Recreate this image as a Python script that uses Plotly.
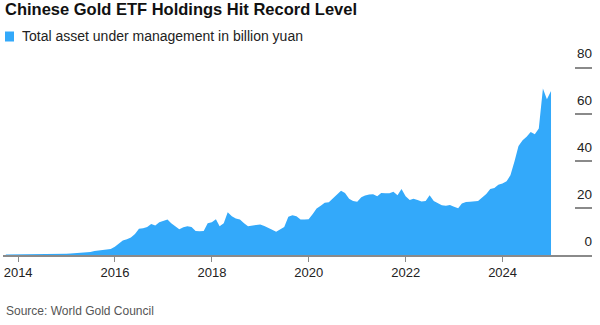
import pandas as pd
import plotly.graph_objects as go

# Month-end total assets under management of Chinese gold ETFs (billion yuan)
start_month = "2013-09-30"
aum_2013 = [0.2, 0.2, 0.2, 0.3]
aum_2014 = [0.3, 0.3, 0.3, 0.3, 0.4, 0.4, 0.4, 0.4, 0.4, 0.5, 0.5, 0.5]
aum_2015 = [0.6, 0.7, 0.9, 1.0, 1.1, 1.3, 1.7, 1.9, 2.0, 2.1, 2.6, 3.5]
aum_2016 = [5.0, 6.2, 6.7, 7.5, 9.0, 11.2, 11.4, 12.0, 13.2, 12.6, 14.0, 14.5]
aum_2017 = [15.2, 13.5, 12.2, 11.0, 11.8, 12.3, 12.0, 10.2, 10.1, 10.2, 13.5, 14.0]
aum_2018 = [15.3, 12.3, 13.6, 18.2, 16.5, 15.6, 15.2, 13.5, 12.3, 12.6, 13.0, 13.0]
aum_2019 = [12.4, 11.8, 10.8, 9.9, 11.0, 12.0, 16.3, 17.0, 16.5, 15.2, 15.2, 15.3]
aum_2020 = [17.5, 19.8, 21.0, 22.3, 22.5, 24.2, 26.0, 27.4, 26.5, 24.0, 23.0, 22.7]
aum_2021 = [24.6, 25.4, 25.8, 25.9, 25.1, 26.5, 26.3, 26.4, 27.0, 25.5, 28.2, 25.1]
aum_2022 = [23.5, 24.0, 23.5, 22.8, 23.0, 25.5, 23.0, 22.0, 21.2, 21.0, 21.3, 20.6]
aum_2023 = [19.9, 22.0, 22.6, 22.7, 22.7, 23.0, 24.5, 26.0, 28.2, 28.6, 30.0, 30.5]
aum_2024 = [31.5, 34.0, 40.0, 46.5, 49.0, 50.5, 52.5, 51.5, 54.0, 71.0, 66.5, 70.0]

y_ticks = [0, 20, 40, 60, 80]

title_text = "Chinese Gold ETF Holdings Hit Record Level"
series_name = "Total asset under management in billion yuan"
source_text = "Source: World Gold Council"

aum = (aum_2013 + aum_2014 + aum_2015 + aum_2016 + aum_2017 + aum_2018
       + aum_2019 + aum_2020 + aum_2021 + aum_2022 + aum_2023 + aum_2024)
dates = pd.date_range(start_month, periods=len(aum), freq="ME")

BLUE = "#33a9fa"
AXIS_GREY = "#8a8a8a"
TEXT = "#222222"
FONT = "Liberation Sans, Arial, sans-serif"

fig = go.Figure()
fig.add_trace(go.Scatter(
    x=dates, y=aum, mode="lines", fill="tozeroy",
    line=dict(width=0, color=BLUE), fillcolor=BLUE,
    name=series_name, showlegend=False, hoverinfo="x+y",
))

fig.update_layout(
    width=600, height=325,
    margin=dict(l=3, r=8, t=45, b=70),
    paper_bgcolor="white", plot_bgcolor="white",
    font=dict(family=FONT, color=TEXT, size=13),
    title=dict(
        text=f"<b>{title_text}</b>", font=dict(size=16.5, color="#111111", family=FONT),
        xref="container", yref="container", x=5 / 600, xanchor="left",
        y=1 - 3 / 325, yanchor="top",
    ),
    showlegend=False,
    xaxis=dict(
        type="date", range=["2013-09-09", "2025-11-05"],
        tick0="2014-01-01", dtick="M24", tickformat="%Y",
        showgrid=False, zeroline=False,
        showline=True, linecolor=AXIS_GREY, linewidth=1.5,
        ticks="outside", ticklen=5, tickwidth=1, tickcolor=AXIS_GREY,
        tickfont=dict(size=13, color=TEXT), layer="below traces",
        fixedrange=True,
    ),
    yaxis=dict(
        side="right", range=[0, 89.6], tickvals=y_ticks,
        showgrid=False, zeroline=False, showline=False,
        ticks="inside", ticklen=17, tickwidth=1.5, tickcolor=AXIS_GREY,
        ticklabelposition="inside top", ticklabelshift=-4, ticklabelstandoff=-3,
        tickfont=dict(size=13.5, color=TEXT),
        fixedrange=True,
    ),
    annotations=[
        dict(
            text=series_name, xref="paper", yref="paper",
            x=(20 - 3) / 589, y=(255 - 36.5) / 210, xanchor="left", yanchor="middle",
            showarrow=False, font=dict(size=14, color=TEXT, family=FONT),
        ),
        dict(
            text=source_text, xref="paper", yref="paper",
            x=(4 - 3) / 589, y=(255 - 311) / 210, xanchor="left", yanchor="middle",
            showarrow=False, font=dict(size=12, color="#555555", family=FONT),
        ),
    ],
    shapes=[
        # legend key for the area series
        dict(type="rect", xref="paper", yref="paper",
             x0=(5 - 3) / 589, x1=(14 - 3) / 589,
             y0=(255 - 41.5) / 210, y1=(255 - 31.5) / 210,
             fillcolor=BLUE, line=dict(width=0)),
    ],
)

fig.write_html("out.html")
